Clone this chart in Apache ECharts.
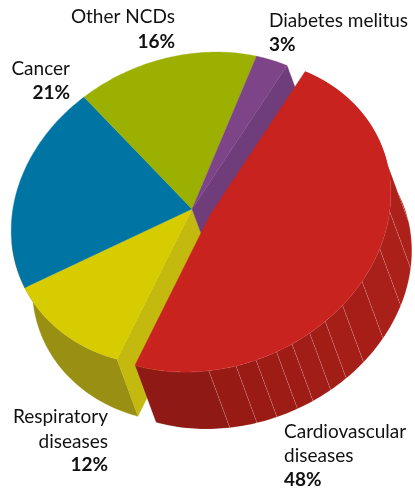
<!DOCTYPE html>
<html>
<head>
<meta charset="utf-8">
<style>
  html, body { margin: 0; background: #fff; }
  #main { width: 415px; height: 492px; }
</style>
<script src="https://cdn.jsdelivr.net/npm/echarts@6/dist/echarts.min.js"></script>
</head>
<body>
<div id="main"></div>
<script>
// clockwise from the Cancer / Other NCDs boundary
var categories = ['Other NCDs', 'Diabetes melitus', 'Cardiovascular diseases', 'Respiratory diseases', 'Cancer'];
var values = [16, 3, 48, 12, 21];
var topColors = ['#9bb000', '#7d4488', '#c9231f', '#d6cc00', '#0075a4'];
var cutColors = [null, '#6e3d7a', null, '#c4b90e', null];
var wallColors = [null, null, null, '#998f12', null];
// red rim is cut in bands (percent of the whole pie)
var redBands = [13.2, 4.8, 3.8, 3.5, 2.8, 2.1, 1.7, 1.8, 1.5, 1.9, 1.8, 2.4, 6.7];
var redBandColors = ['#ad211a', '#ad211a', '#ab2019', '#a91f19', '#a71e18', '#a51e18', '#a31d17', '#a11d17', '#9f1c16', '#9d1c16', '#9a1b15', '#971a15', '#8f1914'];
var drawOrder = [3, 4, 0, 1, 2];
var redIndex = 2;
var yellowIndex = 3;

// pie tilt: the face is a skewed circle, a and b are the axis vectors
var center = [192, 209];
var axisA = [-108, -112];
var axisB = [145, -110];
var depth = [21, 57];
var explode = [18, 6];

function point(pct, origin) {
  var t = pct * 3.6 * Math.PI / 180;
  return [
    origin[0] + axisA[0] * Math.cos(t) + axisB[0] * Math.sin(t),
    origin[1] + axisA[1] * Math.cos(t) + axisB[1] * Math.sin(t)
  ];
}
function arc(from, to, origin) {
  var pts = [];
  var n = Math.max(2, Math.ceil((to - from) * 3));
  for (var i = 0; i <= n; i++) pts.push(point(from + (to - from) * i / n, origin));
  return pts;
}
function shift(p) { return [p[0] + depth[0], p[1] + depth[1]]; }
function poly(points, color, stroke) {
  return {
    type: 'polygon',
    shape: { points: points },
    style: { fill: color, stroke: stroke || color, lineWidth: stroke ? 0.6 : 0.3 }
  };
}
// outer rim between two percent positions
function rim(from, to, origin, color, stroke) {
  var top = arc(from, to, origin);
  return poly(top.concat(top.map(shift).reverse()), color, stroke);
}

var starts = [];
values.reduce(function (sum, v, i) { starts[i] = sum; return sum + v; }, 0);

function renderSlice(params, api) {
  var idx = api.value(2);
  var from = api.value(1);
  var to = from + api.value(0);
  var origin = idx === redIndex ? [center[0] + explode[0], center[1] + explode[1]] : center;
  var children = [];

  // the rim carries on a little under the next slice so the outline stays smooth
  if (wallColors[idx]) children.push(rim(from, to + 5, origin, wallColors[idx]));
  if (cutColors[idx]) {
    var edge = point(idx === yellowIndex ? from : to, origin);
    children.push(poly([origin, edge, shift(edge), shift(origin)], cutColors[idx]));
  }
  if (idx === redIndex) {
    var pos = from;
    redBands.forEach(function (w, i) {
      children.push(rim(pos, pos + w, origin, redBandColors[i], 'rgba(255,255,255,0.2)'));
      pos += w;
    });
  }
  children.push(poly([origin].concat(arc(from, to, origin)), topColors[idx]));
  return { type: 'group', children: children };
}

var labelLines = [
  { lines: ['Other NCDs', '16%'], x: 175, y: [17, 42], align: 'right' },
  { lines: ['Diabetes melitus', '3%'], x: 269, y: [21, 45], align: 'left' },
  { lines: ['Cardiovascular', 'diseases', '48%'], x: 284, y: [432, 456, 480], align: 'left' },
  { lines: ['Respiratory', 'diseases', '12%'], x: 108, y: [417, 442, 465], align: 'right' },
  { lines: ['Cancer', '21%'], x: 70, y: [69, 93], align: 'right' }
];
var textEls = [];
labelLines.forEach(function (l) {
  l.lines.forEach(function (s, i) {
    var isPct = i === l.lines.length - 1;
    textEls.push({
      type: 'text',
      x: l.x,
      y: l.y[i],
      style: {
        text: s,
        textAlign: l.align,
        textVerticalAlign: 'middle',
        fill: '#111',
        font: (isPct ? 'bold ' : '') + '19px Lato'
      }
    });
  });
});

var chart = echarts.init(document.getElementById('main'), null, { renderer: 'canvas' });
chart.setOption({
  animation: false,
  backgroundColor: '#fff',
  graphic: textEls,
  series: [{
    type: 'custom',
    coordinateSystem: 'none',
    renderItem: renderSlice,
    silent: true,
    data: drawOrder.map(function (i) { return { name: categories[i], value: [values[i], starts[i], i] }; })
  }]
});
</script>
</body>
</html>
